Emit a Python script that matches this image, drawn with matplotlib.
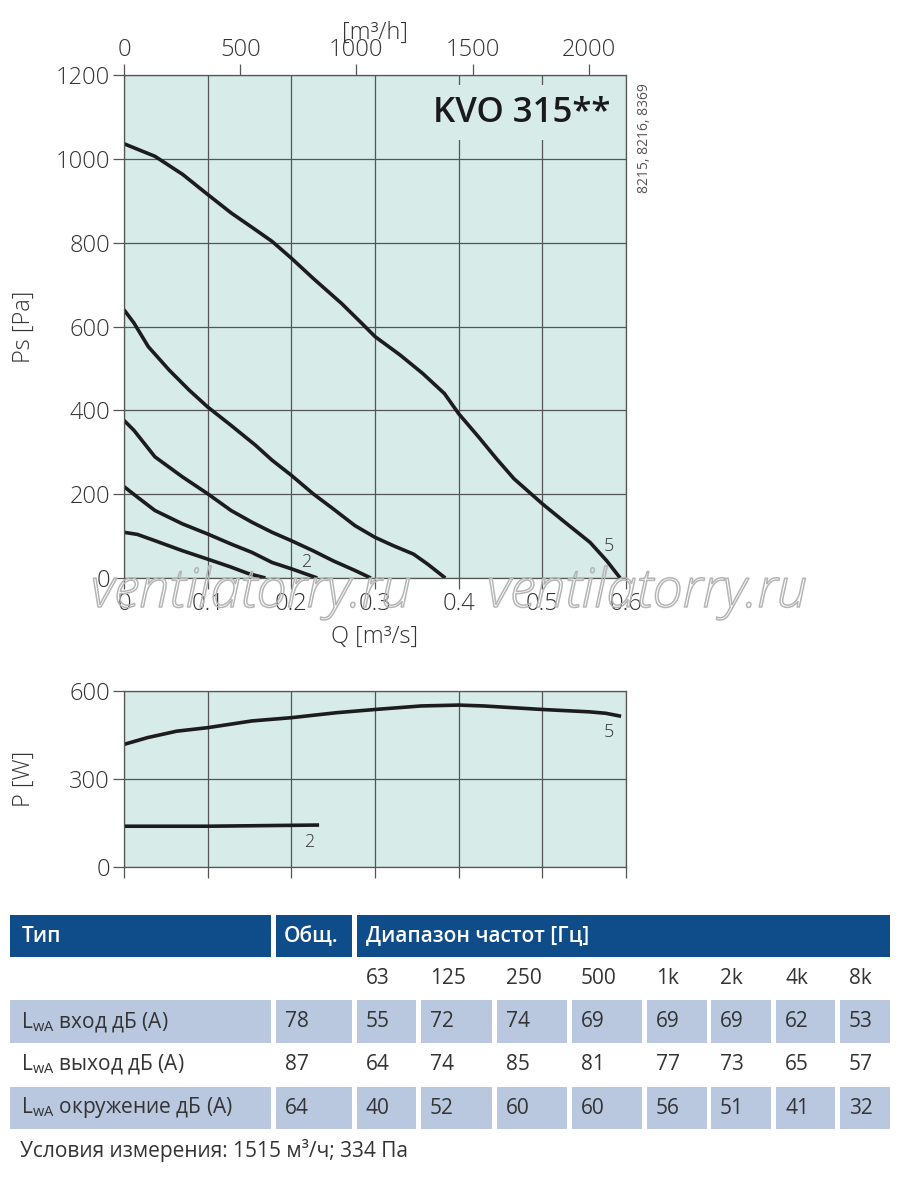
import matplotlib
matplotlib.use("Agg")
import matplotlib.pyplot as plt
import matplotlib.patheffects as pe
from matplotlib.patches import Rectangle

plt.rcParams['font.family'] = ['Open Sans', 'DejaVu Sans']
plt.rcParams['mathtext.fontset'] = 'custom'
plt.rcParams['mathtext.rm'] = 'Open Sans'

# pressure curves, Q [m3/s] vs Ps [Pa]
q_c1 = [0, 0.016, 0.037, 0.07, 0.1, 0.128, 0.148, 0.169]
ps_c1 = [109, 104, 89, 65, 45, 26, 11, 0]
q_c2 = [0, 0.016, 0.037, 0.07, 0.1, 0.128, 0.153, 0.177, 0.2, 0.231]
ps_c2 = [218, 193, 161, 129, 105, 81, 61, 37, 22, 0]
q_c3 = [0, 0.012, 0.037, 0.07, 0.1, 0.128, 0.153, 0.177, 0.2, 0.226, 0.25, 0.276, 0.295]
ps_c3 = [376, 352, 289, 241, 201, 161, 133, 109, 89, 65, 41, 18, 0]
q_c4 = [0, 0.012, 0.029, 0.054, 0.078, 0.1, 0.128, 0.157, 0.177, 0.2, 0.226,
        0.25, 0.276, 0.3, 0.322, 0.346, 0.363, 0.384]
ps_c4 = [640, 608, 552, 496, 448, 408, 364, 317, 281, 245, 201,
         165, 125, 97, 77, 57, 33, 0]
q_c5 = [0, 0.037, 0.07, 0.1, 0.128, 0.157, 0.177, 0.2, 0.226, 0.26, 0.284, 0.3,
        0.33, 0.357, 0.383, 0.4, 0.424, 0.445, 0.466, 0.5, 0.527, 0.557, 0.577, 0.593]
ps_c5 = [1036, 1006, 963, 915, 871, 831, 803, 763, 715, 655, 608, 576,
         532, 488, 440, 392, 336, 285, 237, 177, 133, 85, 41, 0]

# power curves, Q [m3/s] vs P [W]
q_p5 = [0, 0.028, 0.063, 0.1, 0.153, 0.2, 0.254, 0.3, 0.355, 0.4, 0.43, 0.5, 0.556, 0.576, 0.592]
p_p5 = [418, 441, 463, 475, 498, 509, 526, 537, 549, 552, 549, 537, 529, 524, 515]
q_p2 = [0, 0.1, 0.231]
p_p2 = [139, 139, 143]

# sound table
freqs = ['63', '125', '250', '500', '1k', '2k', '4k', '8k']
row_names = ['вход дБ (А)', 'выход дБ (А)', 'окружение дБ (А)']
totals = [78, 87, 64]
lwa_in = [55, 72, 74, 69, 69, 69, 62, 53]
lwa_out = [64, 74, 85, 81, 77, 73, 65, 57]
lwa_env = [40, 52, 60, 60, 56, 51, 41, 32]

W, H = 900, 1181
BG = '#d7ebe8'
GRID = '#555555'
LINE = '#1c1c1c'
TXT = '#333333'

fig = plt.figure(figsize=(W / 100, H / 100), dpi=100)


def ax_rect(l, r, t, b):
    return [l / W, 1 - b / H, (r - l) / W, (b - t) / H]


def style(ax):
    ax.set_facecolor(BG)
    ax.set_xlim(0, 0.6)
    ax.grid(True, color=GRID, lw=0.9)
    ax.set_axisbelow(True)
    for s in ax.spines.values():
        s.set_color(GRID)
        s.set_linewidth(0.9)
    ax.tick_params(direction='out', length=8, width=0.9, color=GRID,
                   labelsize=17, labelcolor=TXT, pad=2)
    for lab in ax.get_xticklabels() + ax.get_yticklabels():
        lab.set_fontweight('light')


# ---- pressure chart
ax = fig.add_axes(ax_rect(124, 626, 75, 578))
ax.set_xticks([0, 0.1, 0.2, 0.3, 0.4, 0.5, 0.6])
ax.set_xticklabels(['0', '0.1', '0.2', '0.3', '0.4', '0.5', '0.6'])
ax.set_yticks(range(0, 1201, 200))
style(ax)
ax.set_ylim(0, 1200)
for q, p in [(q_c1, ps_c1), (q_c2, ps_c2), (q_c3, ps_c3), (q_c4, ps_c4), (q_c5, ps_c5)]:
    ax.plot(q, p, color=LINE, lw=2.6, solid_capstyle='butt', solid_joinstyle='round')
ax.text(0.218, 37, '2', fontsize=13, color=TXT, ha='center', va='center', fontweight='light')
ax.text(0.579, 77, '5', fontsize=13, color=TXT, ha='center', va='center', fontweight='light')
ax.set_xlabel('Q [m³/s]', fontsize=17, color=TXT, fontweight='light')
ax.xaxis.set_label_coords(0.5, -0.093)
ax.set_ylabel('Ps [Pa]', fontsize=17, color=TXT, fontweight='light')
ax.yaxis.set_label_coords(-0.175, 0.5)
ax.text(0.793, 0.925, 'KVO 315**', transform=ax.transAxes, fontsize=25,
        fontweight='semibold', color='#1a1a1a', ha='center', va='center',
        bbox=dict(boxstyle='square,pad=0.3', fc=BG, ec='none'), zorder=3)

top = ax.secondary_xaxis('top', functions=(lambda q: q * 3600, lambda h: h / 3600))
top.set_xticks([0, 500, 1000, 1500, 2000])
top.tick_params(direction='out', length=8, width=0.9, color=GRID,
                labelsize=17, labelcolor=TXT, pad=1)
for lab in top.get_xticklabels():
    lab.set_fontweight('light')
top.spines['top'].set_visible(False)
top.set_xlabel('[m³/h]', fontsize=17, color=TXT, labelpad=0, fontweight='light')

fig.text(645 / W, 1 - 138 / H, '8215, 8216, 8369', rotation=90, fontsize=10,
         color='#555555', ha='center', va='center')

# ---- power chart
ax2 = fig.add_axes(ax_rect(124, 626, 691, 867))
ax2.set_yticks([0, 300, 600])
ax2.set_xticks([0, 0.1, 0.2, 0.3, 0.4, 0.5, 0.6])
ax2.set_xticklabels([])
style(ax2)
ax2.set_ylim(0, 600)
ax2.plot(q_p5, p_p5, color=LINE, lw=2.6, solid_joinstyle='round')
ax2.plot(q_p2, p_p2, color=LINE, lw=2.6)
ax2.text(0.58, 460, '5', fontsize=13, color=TXT, ha='center', va='center', fontweight='light')
ax2.text(0.221, 84, '2', fontsize=13, color=TXT, ha='center', va='center', fontweight='light')
ax2.set_ylabel('P [W]', fontsize=17, color=TXT, fontweight='light')
ax2.yaxis.set_label_coords(-0.175, 0.5)

# ---- watermark (outline only)
for cx in (251, 647):
    fig.text(cx / W, 1 - 593 / H, 'ventilatorry.ru', fontsize=39, style='italic',
             fontweight='light', color='none', ha='center', va='center', zorder=10,
             path_effects=[pe.withStroke(linewidth=1.1, foreground='#b5b5b5')])

# ---- table
HEAD = '#0f4c8a'
CELL = '#b9c7df'


def box(x0, x1, y0, y1, color):
    fig.add_artist(Rectangle((x0 / W, 1 - y1 / H), (x1 - x0) / W, (y1 - y0) / H,
                             transform=fig.transFigure, fc=color, ec='none'))


def txt(x, y, s, **kw):
    fig.text(x / W, 1 - y / H, s, ha='left', va='center', **kw)


cols = [(357, 416), (421, 492), (497, 567), (572, 642), (647, 707), (711, 771),
        (776, 835), (840, 890)]

box(10, 271, 915, 957, HEAD)
box(276, 352, 915, 957, HEAD)
box(357, 890, 915, 957, HEAD)
txt(22, 936, 'Тип', fontsize=15, color='white', fontweight='semibold')
txt(284, 936, 'Общ.', fontsize=15, color='white', fontweight='semibold')
txt(366, 936, 'Диапазон частот [Гц]', fontsize=15, color='white', fontweight='semibold')

for (x0, x1), f in zip(cols, freqs):
    txt(x0 + 9, 978, f, fontsize=15, color=TXT)

rows_y = [(1000, 1043), (1043, 1086), (1087, 1129)]
values = [lwa_in, lwa_out, lwa_env]
for i, ((y0, y1), name, tot, vals) in enumerate(zip(rows_y, row_names, totals, values)):
    yc = (y0 + y1) / 2
    if i != 1:
        box(10, 271, y0, y1, CELL)
        box(276, 352, y0, y1, CELL)
        for x0, x1 in cols:
            box(x0, x1, y0, y1, CELL)
    txt(21, yc, r'L$_{\mathrm{wA}}$ ' + name, fontsize=15, color=TXT)
    txt(285, yc, str(tot), fontsize=15, color=TXT)
    for (x0, x1), v in zip(cols, vals):
        txt(x0 + 9, yc, str(v), fontsize=15, color=TXT)

txt(20, 1150, 'Условия измерения: 1515 м³/ч; 334 Па', fontsize=15, color=TXT)

fig.savefig('out.png', dpi=100, facecolor='white')
